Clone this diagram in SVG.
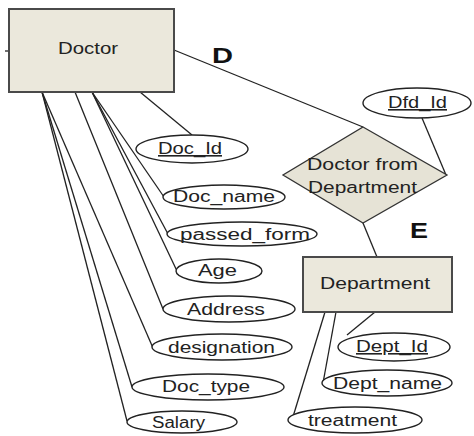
<svg xmlns="http://www.w3.org/2000/svg" width="474" height="436" viewBox="0 0 474 436">
<style>
.ent{fill:#ebe8dc;stroke:#4a4a4a;stroke-width:2}
.rel{fill:#e6e3d6;stroke:#333;stroke-width:1.3}
.att{fill:#fff;stroke:#222;stroke-width:1.4}
.t{font-family:"Liberation Sans",Arial,sans-serif;font-size:16px;fill:#222}
.u{text-decoration:underline}
.lbl{font-family:"Liberation Sans",Arial,sans-serif;font-size:22px;font-weight:bold;fill:#111}
.ln{stroke:#222;stroke-width:1.3;fill:none}
</style>
<rect width="474" height="436" fill="#fff"/>
<g id="connectors">
<line class="ln" x1="5" y1="51" x2="9" y2="51"/>
<line class="ln" x1="174" y1="50" x2="363" y2="127"/>
<line class="ln" x1="422" y1="118" x2="446" y2="175"/>
<line class="ln" x1="363" y1="223" x2="377" y2="257"/>
<line class="ln" x1="375" y1="312" x2="347" y2="335"/>
<line class="ln" x1="336" y1="312" x2="323" y2="383"/>
<line class="ln" x1="325" y1="312" x2="292" y2="420"/>
<line class="ln" x1="140" y1="92" x2="192" y2="135"/>
<line class="ln" x1="92" y1="92" x2="164" y2="197"/>
<line class="ln" x1="92" y1="92" x2="168" y2="234"/>
<line class="ln" x1="92" y1="92" x2="177" y2="271"/>
<line class="ln" x1="75" y1="92" x2="163" y2="309"/>
<line class="ln" x1="42" y1="92" x2="153" y2="348"/>
<line class="ln" x1="42" y1="92" x2="132" y2="387"/>
<line class="ln" x1="42" y1="92" x2="127" y2="421"/>
</g>
<g id="doctor">
<rect class="ent" x="9" y="9" width="165" height="83"/>
<text class="t" x="58" y="54" textLength="60" lengthAdjust="spacingAndGlyphs">Doctor</text>
</g>
<g id="label-d"><text class="lbl" x="212" y="63" textLength="21" lengthAdjust="spacingAndGlyphs">D</text></g>
<g id="label-e"><text class="lbl" x="410" y="238" textLength="18" lengthAdjust="spacingAndGlyphs">E</text></g>
<g id="doctor-from-department">
<polygon class="rel" points="363,127 447,175 363,223 283,175"/>
<text class="t" x="307" y="170" textLength="111" lengthAdjust="spacingAndGlyphs">Doctor from</text>
<text class="t" x="308" y="193" textLength="109" lengthAdjust="spacingAndGlyphs">Department</text>
</g>
<g id="dfd-id">
<ellipse class="att" cx="417" cy="103" rx="54" ry="15"/>
<text class="t u" x="388" y="108" textLength="59" lengthAdjust="spacingAndGlyphs">Dfd_Id</text>
</g>
<g id="department">
<rect class="ent" x="303" y="257" width="149" height="55"/>
<text class="t" x="320" y="289" textLength="110" lengthAdjust="spacingAndGlyphs">Department</text>
</g>
<g id="dept-id">
<ellipse class="att" cx="394" cy="347" rx="56" ry="14"/>
<text class="t u" x="356" y="352" textLength="72" lengthAdjust="spacingAndGlyphs">Dept_Id</text>
</g>
<g id="dept-name">
<ellipse class="att" cx="387" cy="383" rx="65" ry="13"/>
<text class="t" x="333" y="389" textLength="109" lengthAdjust="spacingAndGlyphs">Dept_name</text>
</g>
<g id="treatment">
<ellipse class="att" cx="355" cy="420" rx="67" ry="13"/>
<text class="t" x="308" y="426" textLength="89" lengthAdjust="spacingAndGlyphs">treatment</text>
</g>
<g id="doc-id">
<ellipse class="att" cx="192" cy="149" rx="56" ry="14"/>
<text class="t u" x="158" y="154" textLength="64" lengthAdjust="spacingAndGlyphs">Doc_Id</text>
</g>
<g id="doc-name">
<ellipse class="att" cx="224" cy="197" rx="61" ry="12"/>
<text class="t" x="173" y="202" textLength="102" lengthAdjust="spacingAndGlyphs">Doc_name</text>
</g>
<g id="passed-form">
<ellipse class="att" cx="242" cy="234" rx="75" ry="12"/>
<text class="t" x="180" y="240" textLength="130" lengthAdjust="spacingAndGlyphs">passed_form</text>
</g>
<g id="age">
<ellipse class="att" cx="219" cy="271" rx="43" ry="12"/>
<text class="t" x="198" y="276" textLength="39" lengthAdjust="spacingAndGlyphs">Age</text>
</g>
<g id="address">
<ellipse class="att" cx="229" cy="309" rx="66" ry="13"/>
<text class="t" x="187" y="315" textLength="78" lengthAdjust="spacingAndGlyphs">Address</text>
</g>
<g id="designation">
<ellipse class="att" cx="222" cy="347" rx="70" ry="13"/>
<text class="t" x="168" y="353" textLength="107" lengthAdjust="spacingAndGlyphs">designation</text>
</g>
<g id="doc-type">
<ellipse class="att" cx="208" cy="387" rx="76" ry="13"/>
<text class="t" x="162" y="392" textLength="88" lengthAdjust="spacingAndGlyphs">Doc_type</text>
</g>
<g id="salary">
<ellipse class="att" cx="182" cy="422" rx="55" ry="11"/>
<text class="t" x="152" y="428" textLength="53" lengthAdjust="spacingAndGlyphs">Salary</text>
</g>
</svg>
